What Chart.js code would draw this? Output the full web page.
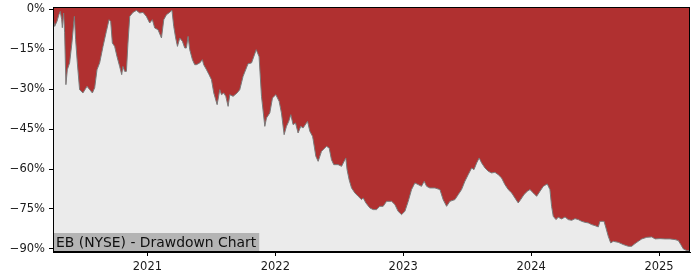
<!DOCTYPE html>
<html><head><meta charset="utf-8">
<script src="https://cdn.jsdelivr.net/npm/chart.js@4/dist/chart.umd.min.js"></script>
<style>html,body{margin:0;padding:0;background:#fff}#wrap{width:700px;height:280px;position:relative}</style>
</head><body><div id="wrap"><canvas id="c" width="700" height="280"></canvas></div>
<script>
// x positions as decimal years
const dateYears = [
2020.262,2020.275,2020.293,2020.308,2020.319,2020.330,2020.335,2020.345,2020.353,2020.363,
2020.374,2020.392,2020.410,2020.429,2020.439,2020.452,2020.470,2020.496,2020.528,2020.549,
2020.570,2020.588,2020.606,2020.627,2020.653,2020.679,2020.700,2020.713,2020.726,2020.744,
2020.762,2020.783,2020.799,2020.809,2020.822,2020.836,2020.848,2020.862,2020.887,2020.914,
2020.940,2020.966,2020.992,2021.018,2021.039,2021.057,2021.083,2021.110,2021.128,2021.149,
2021.174,2021.192,2021.206,2021.221,2021.235,2021.253,2021.274,2021.292,2021.305,2021.318,
2021.331,2021.352,2021.370,2021.383,2021.409,2021.430,2021.440,2021.462,2021.482,2021.501,
2021.519,2021.545,2021.566,2021.579,2021.597,2021.613,2021.631,2021.644,2021.670,2021.701,
2021.722,2021.748,2021.787,2021.814,2021.851,2021.873,2021.892,2021.918,2021.931,2021.957,
2021.978,2022.004,2022.030,2022.048,2022.069,2022.087,2022.105,2022.121,2022.139,2022.158,
2022.178,2022.199,2022.217,2022.252,2022.270,2022.291,2022.296,2022.317,2022.335,2022.361,
2022.400,2022.421,2022.439,2022.457,2022.491,2022.518,2022.551,2022.561,2022.577,2022.596,
2022.622,2022.648,2022.674,2022.687,2022.708,2022.739,2022.765,2022.791,2022.817,2022.843,
2022.870,2022.909,2022.935,2022.960,2022.987,2023.013,2023.039,2023.065,2023.091,2023.117,
2023.143,2023.164,2023.183,2023.208,2023.248,2023.287,2023.312,2023.339,2023.365,2023.404,
2023.430,2023.456,2023.482,2023.508,2023.535,2023.553,2023.574,2023.594,2023.613,2023.639,
2023.665,2023.691,2023.717,2023.743,2023.769,2023.795,2023.821,2023.848,2023.873,2023.899,
2023.918,2023.944,2023.970,2023.991,2024.017,2024.043,2024.069,2024.095,2024.126,2024.147,
2024.160,2024.173,2024.194,2024.212,2024.239,2024.265,2024.290,2024.317,2024.343,2024.369,
2024.395,2024.421,2024.447,2024.473,2024.499,2024.525,2024.538,2024.570,2024.585,2024.603,
2024.622,2024.642,2024.681,2024.721,2024.760,2024.786,2024.812,2024.838,2024.865,2024.904,
2024.943,2024.969,2025.008,2025.047,2025.086,2025.125,2025.151,2025.170,2025.190,2025.217,
2025.237
];
// drawdown in percent
const drawdownPct = [
-3.20,-6.35,-4.47,-1.95,-0.71,-3.83,-6.84,-1.32,-8.72,-28.27,
-22.63,-20.00,-12.48,-2.59,-11.35,-20.00,-30.15,-31.39,-28.91,-30.15,
-31.39,-29.40,-22.63,-20.00,-13.87,-8.23,-3.83,-4.47,-12.59,-13.87,
-17.63,-21.39,-24.51,-21.39,-23.27,-23.27,-12.59,-2.59,-1.09,-0.34,
-1.32,-1.09,-2.59,-5.08,-3.83,-6.95,-7.59,-10.71,-3.83,-1.95,
-1.09,-0.30,-6.35,-10.71,-13.87,-10.71,-11.99,-14.47,-14.47,-10.11,
-15.11,-18.87,-20.75,-20.75,-20.11,-18.87,-20.75,-22.63,-24.51,-26.39,
-31.39,-35.79,-30.15,-32.03,-31.39,-32.67,-36.43,-32.03,-32.67,-31.39,
-30.15,-25.15,-20.38,-20.11,-15.11,-17.74,-32.67,-43.95,-40.79,-38.91,
-33.27,-32.03,-34.55,-38.91,-47.07,-43.95,-42.07,-39.55,-43.31,-42.67,
-46.43,-43.95,-44.55,-42.07,-45.83,-47.71,-48.95,-55.23,-57.11,-53.35,
-51.47,-52.07,-56.47,-58.35,-58.35,-58.99,-55.83,-60.23,-63.99,-67.11,
-68.98,-70.26,-71.50,-70.86,-72.74,-74.62,-75.26,-75.26,-74.02,-74.02,
-72.14,-72.14,-73.38,-75.90,-77.14,-75.90,-72.14,-67.74,-65.23,-65.86,
-66.50,-64.62,-66.50,-67.11,-67.11,-67.74,-71.50,-74.02,-72.14,-71.50,
-69.62,-67.74,-64.62,-62.11,-59.59,-60.23,-57.71,-55.83,-57.71,-59.59,
-60.86,-61.47,-61.24,-62.11,-63.35,-65.86,-67.74,-68.98,-70.86,-72.74,
-71.50,-69.62,-68.38,-67.74,-68.98,-70.26,-68.38,-66.50,-65.60,-67.74,
-74.02,-77.78,-79.02,-78.16,-78.76,-78.01,-79.02,-79.29,-78.65,-79.02,
-79.66,-80.04,-80.26,-80.90,-81.28,-81.77,-79.66,-79.66,-82.14,-85.30,
-87.78,-87.18,-87.56,-88.42,-89.06,-89.06,-88.05,-87.18,-86.28,-85.68,
-85.53,-86.28,-86.17,-86.28,-86.28,-86.54,-86.92,-88.42,-90.04,-90.68,
-90.68
];
const yearTicks = [2021, 2022, 2023, 2024, 2025];
const yearLabels = ['2021', '2022', '2023', '2024', '2025'];
const pctTicks = [0, -15, -30, -45, -60, -75, -90];
const pctLabels = ['0%', '\u221215%', '\u221230%', '\u221245%', '\u221260%', '\u221275%', '\u221290%'];
const chartTitle = 'EB (NYSE) - Drawdown Chart';

const points = dateYears.map((x, i) => ({ x: x, y: drawdownPct[i] }));

const areaPlugin = {
  id: 'areaPlugin',
  beforeDatasetsDraw(chart) {
    const { ctx, chartArea: a } = chart;
    ctx.save();
    ctx.fillStyle = '#ebebeb';
    ctx.fillRect(a.left, a.top, a.right - a.left, a.bottom - a.top);
    ctx.restore();
  },
  afterDatasetsDraw(chart) {
    const { ctx, chartArea: a } = chart;
    ctx.save();
    ctx.font = '13.9px "DejaVu Sans"';
    const w = ctx.measureText(chartTitle).width;
    const h = 19;
    ctx.fillStyle = '#b4b4b4';
    ctx.fillRect(a.left, a.bottom - h, w + 6, h);
    ctx.fillStyle = '#111';
    ctx.textBaseline = 'middle';
    ctx.textAlign = 'left';
    ctx.fillText(chartTitle, a.left + 3, a.bottom - h / 2 + 0.5);
    ctx.strokeStyle = '#000';
    ctx.lineWidth = 1;
    ctx.strokeRect(Math.round(a.left) + 0.5, Math.round(a.top) + 0.5, Math.round(a.right - a.left) - 1, Math.round(a.bottom - a.top) - 1);
    ctx.restore();
  }
};

function noPad(s) {
  s.paddingTop = 0; s.paddingBottom = 0; s.paddingLeft = 0; s.paddingRight = 0;
}

new Chart(document.getElementById('c'), {
  type: 'line',
  data: {
    datasets: [{
      data: points,
      borderColor: '#7a7a7a',
      borderWidth: 1,
      backgroundColor: '#b03030',
      fill: 'end',
      pointRadius: 0,
      tension: 0
    }]
  },
  options: {
    responsive: false,
    animation: false,
    devicePixelRatio: 1,
    layout: { padding: { top: 7, right: 10, left: 0, bottom: 0 } },
    plugins: { legend: { display: false }, tooltip: { enabled: false } },
    scales: {
      x: {
        type: 'linear',
        min: 2020.262,
        max: 2025.242,
        afterBuildTicks: s => { s.ticks = yearTicks.map(v => ({ value: v })); },
        afterFit: s => { s.height = 28; noPad(s); },
        ticks: {
          autoSkip: false, maxRotation: 0, padding: 4,
          color: '#1a1a1a', font: { family: 'DejaVu Sans', size: 11.5 },
          callback: (v, i) => yearLabels[i]
        },
        grid: { drawOnChartArea: false, tickLength: 4, tickColor: '#000', color: '#000' },
        border: { display: true, color: '#000', width: 1 }
      },
      y: {
        min: -91.2,
        max: 0.94,
        afterBuildTicks: s => { s.ticks = pctTicks.map(v => ({ value: v })); },
        afterFit: s => { s.width = 53; noPad(s); },
        ticks: {
          autoSkip: false, padding: 4,
          color: '#1a1a1a', font: { family: 'DejaVu Sans', size: 11.5 },
          callback: (v, i) => pctLabels[i]
        },
        grid: { drawOnChartArea: false, tickLength: 4, tickColor: '#000', color: '#000' },
        border: { display: true, color: '#000', width: 1 }
      }
    }
  },
  plugins: [areaPlugin]
});
</script>
</body></html>
